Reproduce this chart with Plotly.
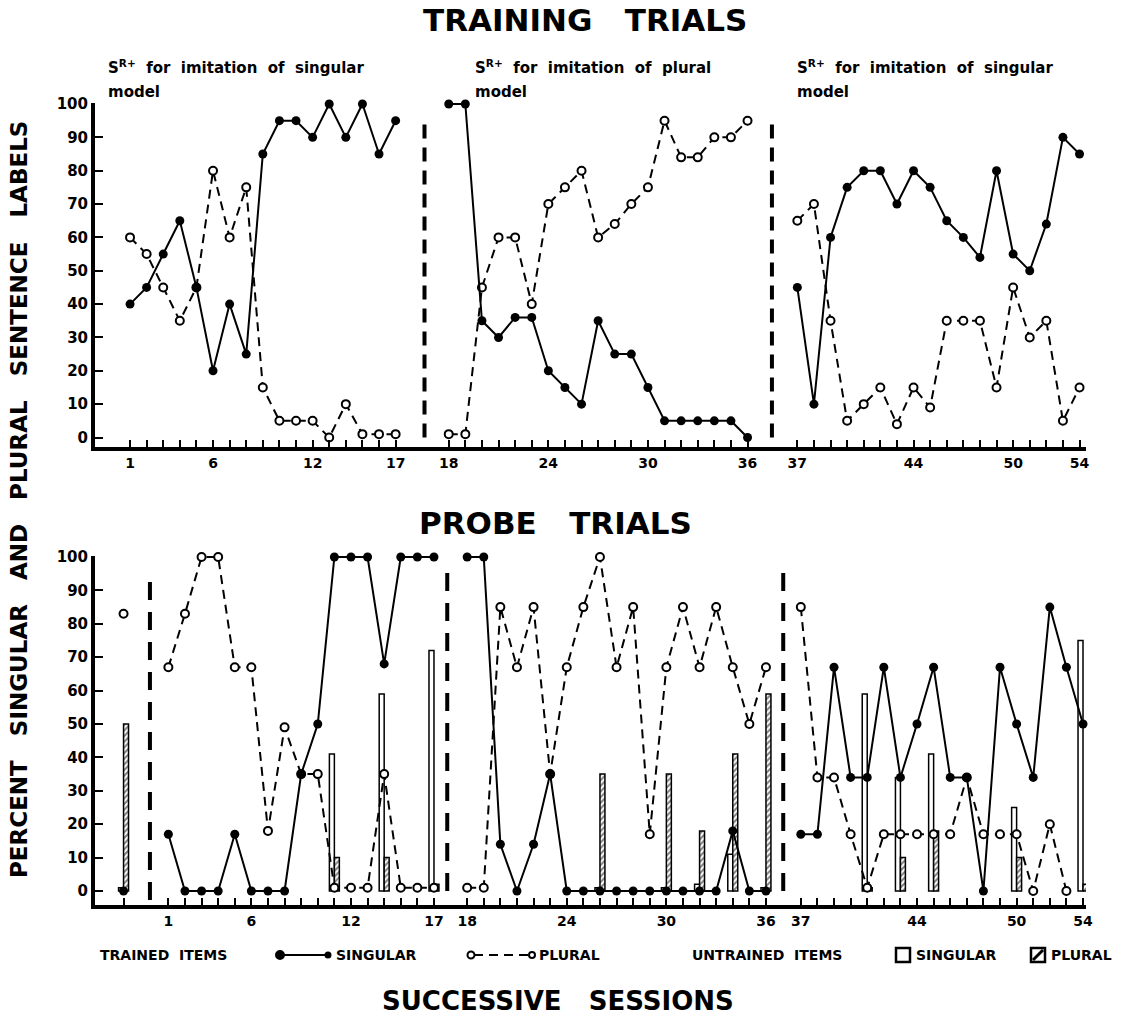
import plotly.graph_objects as go

# ---------------- DATA ----------------
sessions = list(range(1, 55))
labeled_sessions = [1, 6, 12, 17, 18, 24, 30, 36, 37, 44, 50, 54]

# Training trials (top panel), sessions 1-54
train_singular = [40, 45, 55, 65, 45, 20, 40, 25, 85, 95, 95, 90, 100, 90, 100, 85, 95,
                  100, 100, 35, 30, 36, 36, 20, 15, 10, 35, 25, 25, 15, 5, 5, 5, 5, 5, 0,
                  45, 10, 60, 75, 80, 80, 70, 80, 75, 65, 60, 54, 80, 55, 50, 64, 90, 85]
train_plural = [60, 55, 45, 35, 45, 80, 60, 75, 15, 5, 5, 5, 0, 10, 1, 1, 1,
                 1, 1, 45, 60, 60, 40, 70, 75, 80, 60, 64, 70, 75, 95, 84, 84, 90, 90, 95,
                 65, 70, 35, 5, 10, 15, 4, 15, 9, 35, 35, 35, 15, 45, 30, 35, 5, 15]

# Probe trials (bottom panel): baseline probe (session 0) then sessions 1-54
probe_baseline_singular = 0
probe_baseline_plural = 83
probe_singular = [17, 0, 0, 0, 17, 0, 0, 0, 35, 50, 100, 100, 100, 68, 100, 100, 100,
                  100, 100, 14, 0, 14, 35, 0, 0, 0, 0, 0, 0, 0, 0, 0, 0, 18, 0, 0,
                  17, 17, 67, 34, 34, 67, 34, 50, 67, 34, 34, 0, 67, 50, 34, 85, 67, 50]
probe_plural = [67, 83, 100, 100, 67, 67, 18, 49, 35, 35, 1, 1, 1, 35, 1, 1, 1,
                1, 1, 85, 67, 85, 35, 67, 85, 100, 67, 85, 17, 67, 85, 67, 85, 67, 50, 67,
                85, 34, 34, 17, 1, 17, 17, 17, 17, 17, 34, 17, 17, 17, 0, 20, 0, None]

# Untrained items (bars) in probe sessions
untrained_sessions = [0, 11, 14, 17, 26, 30, 32, 34, 36, 41, 43, 45, 50, 54]
untrained_singular = [1, 41, 59, 72, 1, 1, 2, 11, 1, 59, 34, 41, 25, 75]
untrained_plural = [50, 10, 10, 2, 35, 35, 18, 41, 59, 1, 10, 18, 10, 2]

# ---------------- LAYOUT HELPERS ----------------
W, H = 1124, 1020
L, R, T, B = 95, 38, 103, 115
PW, PH = W - L - R, H - T - B


def px(x):
    return (x - L) / PW


def py(y):
    return (H - B - y) / PH


def top_pos(s):
    return s + (0 if s <= 17 else (2.2 if s <= 36 else 4.2))


def bot_pos(s):
    if s == 0:
        return -1.7
    return s + (0 if s <= 17 else (1.0 if s <= 36 else 2.1))


def phase_of(s):
    return 0 if s <= 17 else (1 if s <= 36 else 2)


def phased_xy(xs, ys, posf):
    X, Y = [], []
    prev = None
    for s, v in zip(xs, ys):
        ph = phase_of(s) if s > 0 else -1
        if prev is not None and ph != prev:
            X.append(None)
            Y.append(None)
        X.append(posf(s))
        Y.append(v)
        prev = ph
    return X, Y


fig = go.Figure()

sing_line = dict(color="black", width=2)
plur_line = dict(color="black", width=2, dash="9px,6px")
sing_marker = dict(symbol="circle", size=9, color="black")
plur_marker = dict(symbol="circle", size=8, color="white", line=dict(color="black", width=2))

# ---- top panel ----
x, y = phased_xy(sessions, train_plural, top_pos)
fig.add_trace(go.Scatter(x=x, y=y, mode="lines+markers", line=plur_line, marker=plur_marker,
                         xaxis="x", yaxis="y", cliponaxis=False, hoverinfo="skip"))
x, y = phased_xy(sessions, train_singular, top_pos)
fig.add_trace(go.Scatter(x=x, y=y, mode="lines+markers", line=sing_line, marker=sing_marker,
                         xaxis="x", yaxis="y", cliponaxis=False, hoverinfo="skip"))

# ---- bottom panel ----
fig.add_trace(go.Bar(x=[bot_pos(s) for s in untrained_sessions], y=untrained_singular,
                     width=0.3, offset=-0.3, xaxis="x2", yaxis="y2",
                     marker=dict(color="white", line=dict(color="black", width=1.5)),
                     hoverinfo="skip"))
fig.add_trace(go.Bar(x=[bot_pos(s) for s in untrained_sessions], y=untrained_plural,
                     width=0.3, offset=0.0, xaxis="x2", yaxis="y2",
                     marker=dict(color="white", line=dict(color="black", width=1.5),
                                 pattern=dict(shape="/", fgcolor="black", bgcolor="white",
                                              size=4, solidity=0.5)),
                     hoverinfo="skip"))

ps = [0] + sessions
x, y = phased_xy(ps, [probe_baseline_plural] + probe_plural, bot_pos)
fig.add_trace(go.Scatter(x=x, y=y, mode="lines+markers", line=plur_line, marker=plur_marker,
                         xaxis="x2", yaxis="y2", cliponaxis=False, hoverinfo="skip"))
x, y = phased_xy(ps, [probe_baseline_singular] + probe_singular, bot_pos)
fig.add_trace(go.Scatter(x=x, y=y, mode="lines+markers", line=sing_line, marker=sing_marker,
                         xaxis="x2", yaxis="y2", cliponaxis=False, hoverinfo="skip"))

# ---------------- AXES ----------------
tickfont = dict(family="DejaVu Sans", size=14, color="black", weight="bold")
top_tickvals = [top_pos(s) for s in sessions]
bot_tickvals = [bot_pos(s) for s in [0] + sessions]
top_ticktext = [str(s) if s in labeled_sessions else " " for s in sessions]
bot_ticktext = [" "] + [str(s) if s in labeled_sessions else " " for s in sessions]

common_x = dict(ticks="inside", ticklen=7, tickwidth=2, tickcolor="black", showline=True,
                linewidth=4, linecolor="black", showgrid=False, zeroline=False,
                tickfont=tickfont, tickangle=0)
common_y = dict(ticks="inside", ticklen=8, tickwidth=2, tickcolor="black", showline=True,
                linewidth=4, linecolor="black", showgrid=False, zeroline=False,
                tickvals=list(range(0, 101, 10)), tickfont=dict(tickfont, size=15))

fig.update_layout(
    width=W, height=H, margin=dict(l=L, r=R, t=T, b=B),
    paper_bgcolor="white", plot_bgcolor="white", showlegend=False,
    font=dict(family="DejaVu Sans", color="black"),
    barmode="overlay",
    xaxis=dict(common_x, domain=[0, 1], anchor="y", range=[-1.11, 58.59],
               tickmode="array", tickvals=top_tickvals, ticktext=top_ticktext),
    yaxis=dict(common_y, domain=[py(447), 1.0], anchor="x", range=[-2.85, 100.3]),
    xaxis2=dict(common_x, domain=[0, 1], anchor="y2", range=[-3.42, 56.28],
                tickmode="array", tickvals=bot_tickvals, ticktext=bot_ticktext),
    yaxis2=dict(common_y, domain=[0, py(556)], anchor="x2", range=[-4.19, 100.3]),
)

# ---------------- PHASE SEPARATORS ----------------
shapes = []
for xv in [18.74, 39.67]:
    shapes.append(dict(type="line", xref="x", yref="y", x0=xv, x1=xv, y0=0, y1=96,
                       line=dict(color="black", width=4, dash="14px,9px")))
for xv, y0 in [(-0.11, -2.7), (17.80, 0), (38.04, 0)]:
    shapes.append(dict(type="line", xref="x2", yref="y2", x0=xv, x1=xv, y0=y0, y1=96,
                       line=dict(color="black", width=4, dash="18px,12px")))

# ---------------- LEGEND (drawn) ----------------
ly = 955


def circ(cx, cy, r, fill):
    return dict(type="circle", xref="paper", yref="paper",
                x0=px(cx - r), x1=px(cx + r), y0=py(cy + r), y1=py(cy - r),
                line=dict(color="black", width=2), fillcolor=fill, layer="above")


shapes += [
    dict(type="line", xref="paper", yref="paper", x0=px(280), x1=px(328), y0=py(ly), y1=py(ly),
         line=dict(color="black", width=2)),
    circ(280, ly, 4, "black"), circ(328, ly, 2.5, "black"),
    dict(type="line", xref="paper", yref="paper", x0=px(474), x1=px(529), y0=py(ly), y1=py(ly),
         line=dict(color="black", width=2, dash="9px,6px")),
    circ(471, ly, 3.5, "white"), circ(532, ly, 3, "white"),
    dict(type="rect", xref="paper", yref="paper", x0=px(896), x1=px(910), y0=py(962), y1=py(948),
         line=dict(color="black", width=2.5), fillcolor="white"),
    dict(type="rect", xref="paper", yref="paper", x0=px(1031), x1=px(1045), y0=py(962), y1=py(948),
         line=dict(color="black", width=2.5), fillcolor="white"),
    dict(type="line", xref="paper", yref="paper", x0=px(1033), x1=px(1043), y0=py(960), y1=py(950),
         line=dict(color="black", width=3)),
]
fig.update_layout(shapes=shapes)

# ---------------- TEXT ----------------
ann = []


def text(t, x, y, size, xanchor="left", yanchor="middle", bold=True, angle=0):
    ann.append(dict(text=t, x=px(x), y=py(y), xref="paper", yref="paper", showarrow=False,
                    xanchor=xanchor, yanchor=yanchor, textangle=angle,
                    font=dict(family="DejaVu Sans", size=size, color="black",
                              weight="bold" if bold else "normal")))


text("TRAINING   TRIALS", 585, 20, 31, xanchor="center")
text("PROBE   TRIALS", 555, 523, 31, xanchor="center")
text("SUCCESSIVE   SESSIONS", 558, 1001, 26, xanchor="center")
text("PERCENT   SINGULAR   AND   PLURAL   SENTENCE   LABELS", 19, 500, 23,
     xanchor="center", angle=-90)

for x0, word in [(106, "singular"), (473, "plural"), (795, "singular")]:
    text("S<sup>R+</sup>  for  imitation  of  " + word, x0, 79, 15, yanchor="bottom")
    text("model", x0, 81, 15, yanchor="top")

text("TRAINED  ITEMS", 98, ly, 14)
text("SINGULAR", 334, ly, 14)
text("PLURAL", 537, ly, 14)
text("UNTRAINED  ITEMS", 690, ly, 14)
text("SINGULAR", 914, ly, 14)
text("PLURAL", 1049, ly, 14)

fig.update_layout(annotations=ann)

fig.write_html("out.html")
